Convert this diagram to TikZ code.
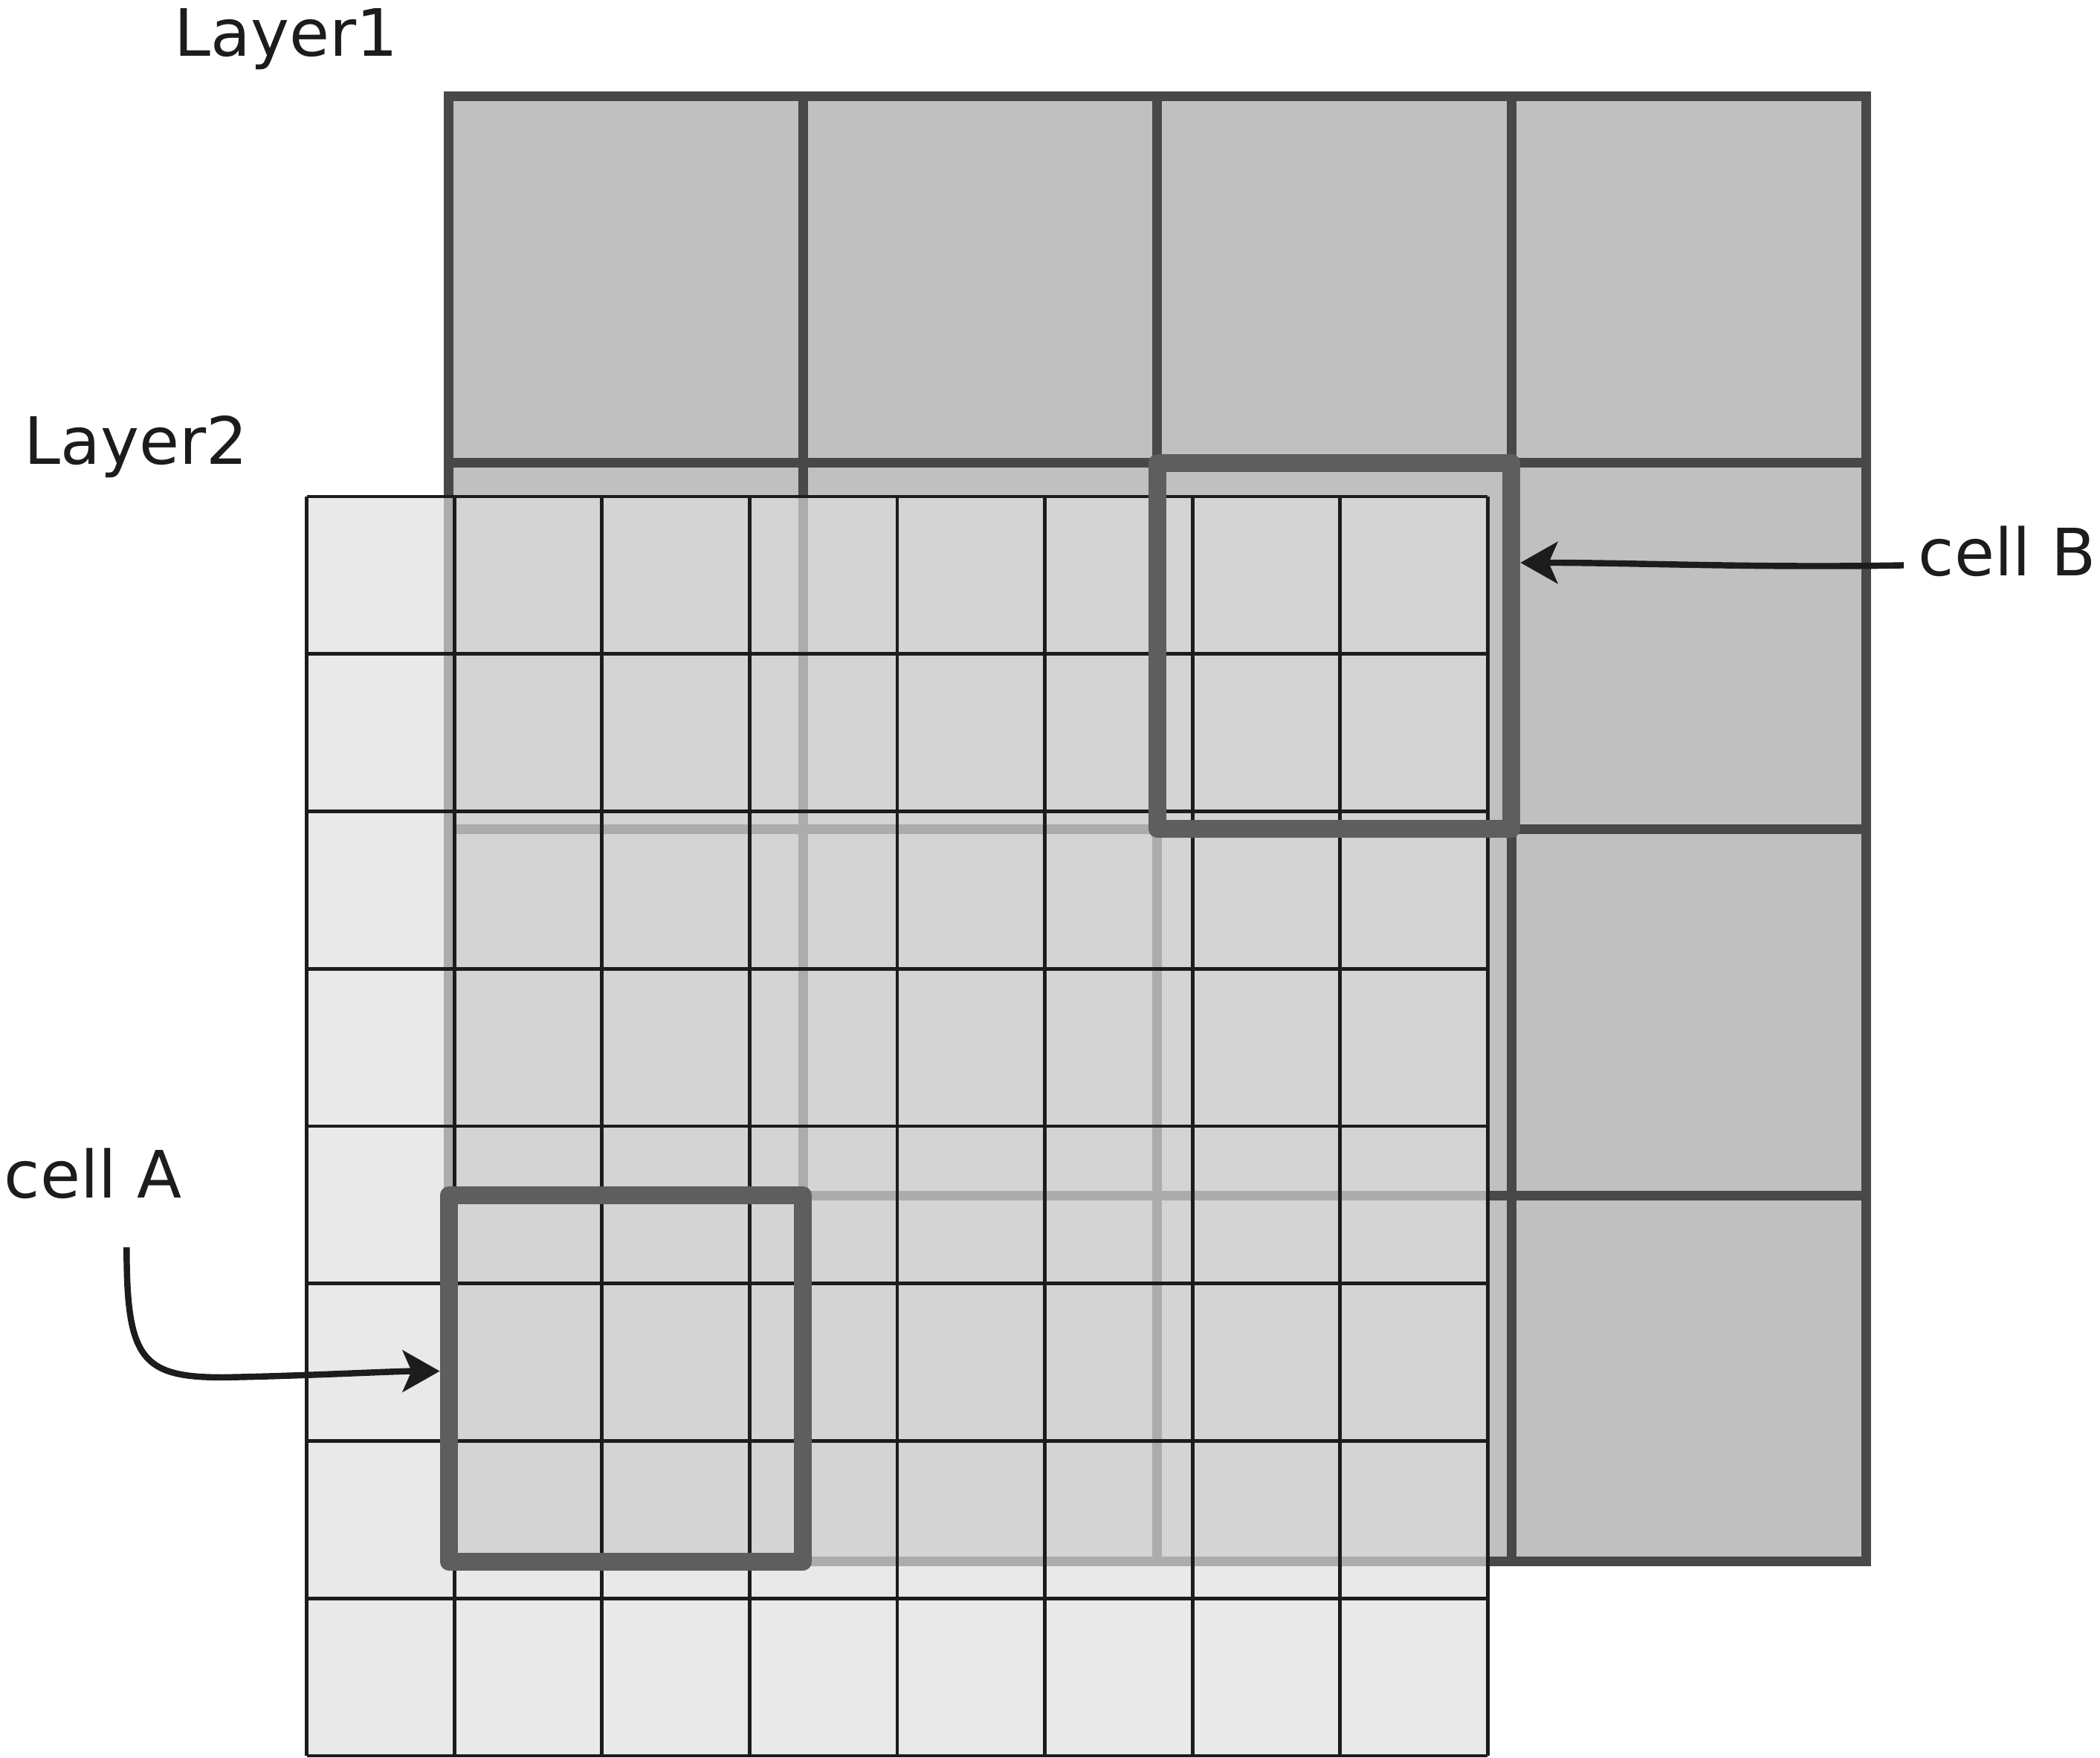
\documentclass[tikz,border=0pt]{standalone}
\usepackage{fontspec}
\setmainfont{DejaVu Sans}
\usetikzlibrary{arrows.meta}
\definecolor{layeronefill}{RGB}{192, 192, 192}
\definecolor{layeroneline}{RGB}{72, 72, 72}
\definecolor{layertwofill}{RGB}{222, 222, 222}
\definecolor{layertwoline}{RGB}{28, 28, 28}
\definecolor{cellline}{RGB}{94, 94, 94}

\begin{document}
\begin{tikzpicture}[
        lbl/.style={font=\fontsize{25}{30}\selectfont, text=layertwoline,
                    anchor=base west, inner sep=2pt},
        cellbox/.style={draw=cellline, line width=6.8pt, line join=round,
                        minimum width=4.766cm, minimum height=4.928cm, inner sep=0pt},
        pointer/.style={draw=layertwoline, line width=2.4pt,
                        -{Stealth[length=5mm, width=5.6mm, inset=1.2mm]}}
    ]
    \useasboundingbox (0, 0) rectangle (28.25, 23.65);

    % Layer1: coarse 4 x 4
    \fill[layeronefill] (6.036, 2.64) rectangle (25.1, 22.352);
    \foreach \i in {0,...,4} {
        \draw[layeroneline, line width=3.7pt, line cap=rect]
            (6.036+4.766*\i, 2.64) -- (6.036+4.766*\i, 22.352);
        \draw[layeroneline, line width=3.7pt, line cap=rect]
            (6.036, 2.64+4.928*\i) -- (25.1, 2.64+4.928*\i);
    }

    % Layer2: fine 8 x 8, see-through
    \fill[layertwofill, fill opacity=0.667] (4.126, 0.03) rectangle (20.014, 16.97);
    \foreach \i in {0,...,8} {
        \draw[layertwoline, line width=1.4pt]
            (4.126+1.986*\i, 0.03) -- (4.126+1.986*\i, 16.97);
        \draw[layertwoline, line width=1.4pt]
            (4.126, 0.03+2.1175*\i) -- (20.014, 0.03+2.1175*\i);
    }

    \node[cellbox] (cellA) at (8.419, 5.104) {};
    \node[cellbox] (cellB) at (17.951, 14.96) {};

    \node[lbl] (layerOne) at (2.27, 22.89) {Layer1};
    \node[lbl] (layerTwo) at (0.25, 17.4) {Layer2};
    \node[lbl] (lblA) at (-0.02, 7.53) {cell A};
    \node[lbl] (lblB) at (25.73, 15.9) {cell B};

    \coordinate (tailA) at ([xshift=0.45cm, yshift=-0.57cm]lblA.south);
    \draw[pointer] (tailA) .. controls +(0, -1.5) and +(-1.1, 0) .. (3.0, 5.12)
        .. controls +(1.1, 0.02) and +(-0.6, 0) .. ([yshift=0.1cm]cellA.west);
    \draw[pointer, shorten <=0.12cm] ([yshift=-0.18cm]lblB.west)
        .. controls +(-2, -0.04) and +(1.5, 0) .. ([yshift=1.12cm]cellB.east);
\end{tikzpicture}
\end{document}
